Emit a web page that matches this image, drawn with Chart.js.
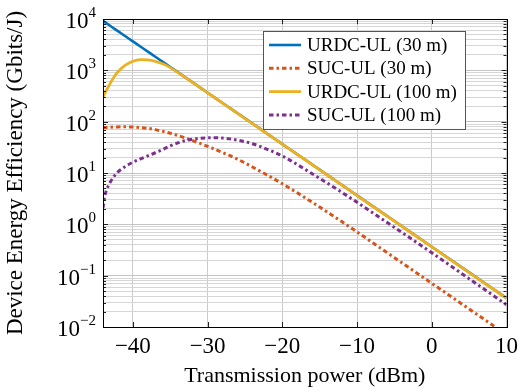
<!DOCTYPE html>
<html>
<head>
<meta charset="utf-8">
<script src="https://cdn.jsdelivr.net/npm/chart.js@4.4.0/dist/chart.umd.min.js"></script>
<style>
  body { margin: 0; background: #fff; }
  #wrap { width: 524px; height: 388px; }
</style>
</head>
<body>
<div id="wrap"><canvas id="eeChart"></canvas></div>
<script>
// transmit power samples (dBm), shared by all four curves
const powerDbm = [-44, -43.75, -43.5, -43, -42.5, -42, -41, -40, -39, -38, -37, -36, -35, -34,
  -33, -32, -31, -30, -29, -28, -27, -26, -25, -24, -23, -22, -21, -20, -19, -18, -17, -16,
  -15, -14, -13, -12, -11, -10, -5, 0, 5, 10];

// device energy efficiency, Gbits/J
const urdc30 = [9200, 8680, 8200, 7310, 6510, 5800, 4610, 3660, 2910, 2310, 1840, 1460, 1160, 920,
  731, 581, 461, 366, 291, 231, 184, 146, 116, 92, 73, 58, 46, 36.6, 29, 23.1, 18.4, 14.6,
  11.6, 9.2, 7.31, 5.81, 4.61, 3.66, 1.16, 0.366, 0.116, 0.0366];
const suc30 = [76.7, 77.1, 77.4, 78.2, 78.7, 79.1, 79.3, 78.7, 76.9, 74.0, 70.0, 65.0, 59.6, 53.8,
  48.2, 42.8, 37.7, 33.1, 28.8, 25.1, 21.7, 18.6, 15.7, 13.1, 10.9, 9.08, 7.5, 6.17, 5.05, 4.11, 3.33, 2.69,
  2.17, 1.74, 1.40, 1.12, 0.891, 0.71, 0.224, 0.071, 0.0224, 0.0071];
const urdc100 = [300, 360, 420, 570, 750, 940, 1260, 1500, 1620, 1600, 1500, 1340, 1130, 910,
  728, 579, 460, 365, 290, 230, 183, 145, 115, 91.5, 72.6, 57.7, 45.8, 36.4, 28.9, 23, 18.3, 14.5,
  11.5, 9.15, 7.27, 5.78, 4.59, 3.64, 1.15, 0.363, 0.115, 0.0362];
const suc100 = [2.09, 3.63, 4.79, 6.76, 8.71, 10.5, 13.5, 16.2, 18.8, 21.6, 24.8, 28.8, 33.9, 38.5,
  42.7, 45.7, 47.6, 48.4, 48.5, 47.9, 46.2, 43.7, 40.7, 37.2, 33.1, 28.8, 25.1, 21.4, 17.8, 14.6, 11.9, 9.66,
  7.85, 6.38, 5.16, 4.17, 3.35, 2.69, 0.871, 0.279, 0.0871, 0.0272];

const seriesNames = ['URDC-UL (30 m)', 'SUC-UL (30 m)', 'URDC-UL (100 m)', 'SUC-UL (100 m)'];
const xTicks = [-40, -30, -20, -10, 0, 10];
const yDecades = [-2, -1, 0, 1, 2, 3, 4];

const serif = '"Liberation Serif", "Times New Roman", serif';
const dashDot = [4.5, 3, 2.5, 3];

function toPoints(ys) {
  return powerDbm.map((x, i) => ({ x: x, y: ys[i] }));
}

function minus(v) {
  return v < 0 ? '\u2212' + Math.abs(v) : String(v);
}

// frame, inside tick marks, 10^k labels, axis titles and the legend box
const decorations = {
  id: 'decorations',
  afterDraw(chart) {
    const ctx = chart.ctx;
    const a = chart.chartArea;
    const xs = chart.scales.x, ys = chart.scales.y;
    ctx.save();

    // tick marks on all four sides
    ctx.strokeStyle = '#222';
    ctx.lineWidth = 1;
    ctx.beginPath();
    ys.ticks.forEach(t => {
      const py = Math.round(ys.getPixelForValue(t.value)) + 0.5;
      const len = t.major ? 5 : 3;
      ctx.moveTo(a.left, py); ctx.lineTo(a.left + len, py);
      ctx.moveTo(a.right, py); ctx.lineTo(a.right - len, py);
    });
    xTicks.forEach(v => {
      const px = Math.round(xs.getPixelForValue(v)) + 0.5;
      ctx.moveTo(px, a.bottom); ctx.lineTo(px, a.bottom - 5);
      ctx.moveTo(px, a.top); ctx.lineTo(px, a.top + 5);
    });
    ctx.stroke();

    ctx.strokeStyle = '#000';
    ctx.strokeRect(Math.round(a.left) + 0.5, Math.round(a.top) + 0.5,
      Math.round(a.right - a.left), Math.round(a.bottom - a.top));

    // y labels as 10 with a raised exponent
    ctx.fillStyle = '#000';
    ctx.textBaseline = 'alphabetic';
    yDecades.forEach(k => {
      const py = ys.getPixelForValue(Math.pow(10, k));
      ctx.font = '15px ' + serif;
      const exp = minus(k);
      const we = ctx.measureText(exp).width;
      ctx.font = '23px ' + serif;
      const wb = ctx.measureText('10').width;
      const right = a.left - 7;
      ctx.textAlign = 'left';
      ctx.fillText('10', right - we - wb, py + 9);
      ctx.font = '15px ' + serif;
      ctx.fillText(exp, right - we, py - 2);
    });

    // axis titles
    ctx.font = '22px ' + serif;
    ctx.textAlign = 'center';
    ctx.textBaseline = 'middle';
    ctx.fillText('Transmission power (dBm)', (a.left + a.right) / 2, 376);
    ctx.save();
    ctx.font = '23px ' + serif;
    ctx.translate(16, (a.top + a.bottom) / 2);
    ctx.rotate(-Math.PI / 2);
    ctx.fillText('Device Energy Efficiency (Gbits/J)', 0, 0);
    ctx.restore();

    // legend
    const bx = 263.5, by = 31.5, bw = 202, bh = 98;
    ctx.fillStyle = '#fff';
    ctx.fillRect(bx, by, bw, bh);
    ctx.strokeStyle = '#555';
    ctx.strokeRect(bx, by, bw, bh);
    ctx.font = '19px ' + serif;
    ctx.textAlign = 'left';
    chart.data.datasets.forEach((ds, i) => {
      const ry = 45 + i * 23.3;
      ctx.strokeStyle = ds.borderColor;
      ctx.lineWidth = ds.borderWidth;
      ctx.lineCap = 'butt';
      ctx.setLineDash(ds.borderDash || []);
      ctx.beginPath();
      ctx.moveTo(269, ry); ctx.lineTo(301, ry);
      ctx.stroke();
      ctx.setLineDash([]);
      ctx.fillStyle = '#000';
      ctx.fillText(ds.label, 307, ry + 1);
    });
    ctx.restore();
  }
};

const data = {
  datasets: [
    { label: seriesNames[0], data: toPoints(urdc30), borderColor: '#0072bd', borderWidth: 2.6, order: 4 },
    { label: seriesNames[1], data: toPoints(suc30), borderColor: '#d95319', borderWidth: 3, borderDash: dashDot, order: 3 },
    { label: seriesNames[2], data: toPoints(urdc100), borderColor: '#edb120', borderWidth: 2.8, order: 2 },
    { label: seriesNames[3], data: toPoints(suc100), borderColor: '#7e2f8e', borderWidth: 3, borderDash: dashDot, order: 1 }
  ]
};

const config = {
  type: 'line',
  data,
  options: {
    responsive: true,
    maintainAspectRatio: false,
    animation: false,
    events: [],
    layout: { padding: { top: 19, right: 17, left: 0, bottom: 0 } },
    elements: {
      point: { radius: 0 },
      line: { cubicInterpolationMode: 'monotone', fill: false, borderCapStyle: 'butt' }
    },
    datasets: { line: { clip: 0 } },
    plugins: { legend: { display: false }, tooltip: { enabled: false } },
    scales: {
      x: {
        type: 'linear',
        min: -44,
        max: 10,
        afterBuildTicks: axis => { axis.ticks = xTicks.map(v => ({ value: v })); },
        afterFit: axis => { axis.height = 61; },
        ticks: {
          font: { family: serif, size: 23 },
          color: '#000',
          padding: 6,
          maxRotation: 0,
          autoSkip: false,
          callback: v => minus(v)
        },
        grid: { color: '#cbcbcb', drawTicks: false },
        border: { display: false }
      },
      y: {
        type: 'logarithmic',
        min: 0.01,
        max: 10000,
        afterBuildTicks: axis => {
          const t = [];
          yDecades.forEach(k => {
            for (let m = 1; m < 10; m++) {
              const v = m * Math.pow(10, k);
              if (v <= 10000.001) t.push({ value: v, major: m === 1 });
            }
          });
          axis.ticks = t;
        },
        afterFit: axis => { axis.width = 103; },
        ticks: { display: false },
        grid: {
          color: ctx => (ctx.tick && ctx.tick.major) ? '#c4c4c4' : '#d6d6d6',
          drawTicks: false
        },
        border: { display: false }
      }
    }
  },
  plugins: [decorations]
};

const eeChart = new Chart(document.getElementById('eeChart'), config);
</script>
</body>
</html>
